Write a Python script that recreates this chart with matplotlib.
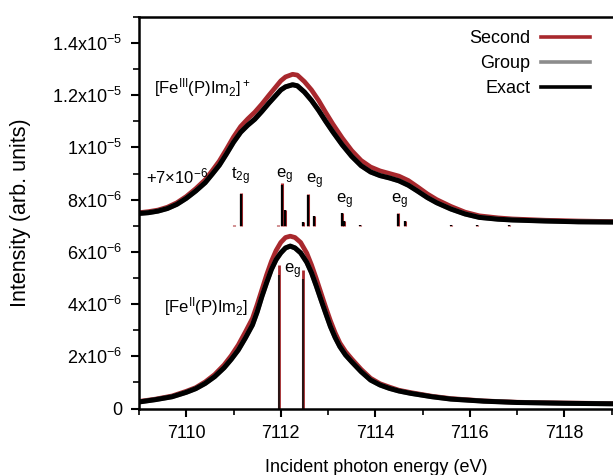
import numpy as np
import matplotlib
matplotlib.use("Agg")
import matplotlib.pyplot as plt
from matplotlib.ticker import FixedLocator, FixedFormatter, MultipleLocator

plt.rcParams["font.family"] = ["Liberation Sans", "DejaVu Sans"]
plt.rcParams["mathtext.default"] = "regular"

RED = "#a8282d"
GRAY = "#8c8c8c"

# Fe(III) spectrum (absolute, already includes +7e-6 offset), units of 1e-6
E_up = [7109.0, 7109.2, 7109.4, 7109.6, 7109.8, 7110.0, 7110.2, 7110.4, 7110.55,
        7110.7, 7110.85, 7111.0, 7111.15, 7111.3, 7111.45, 7111.6, 7111.75, 7111.9,
        7112.0, 7112.1, 7112.25, 7112.35, 7112.5, 7112.65, 7112.8, 7112.95,
        7113.1, 7113.3, 7113.5, 7113.7, 7113.9, 7114.1, 7114.3, 7114.5, 7114.7,
        7114.9, 7115.1, 7115.3, 7115.6, 7115.9, 7116.2, 7116.6, 7116.9, 7117.6,
        7118.3, 7119.0]
up_exact = [7.47, 7.50, 7.56, 7.66, 7.82, 8.05, 8.33, 8.65, 8.98,
            9.32, 9.75, 10.20, 10.58, 10.85, 11.08, 11.38, 11.70, 12.00,
            12.20, 12.32, 12.40, 12.36, 12.12, 11.80, 11.42, 11.00,
            10.60, 10.10, 9.66, 9.30, 9.06, 8.92, 8.83, 8.72, 8.55,
            8.32, 8.08, 7.88, 7.64, 7.45, 7.32, 7.25, 7.22, 7.18,
            7.15, 7.14]
up_group = list(up_exact)
up_second = [7.50, 7.54, 7.60, 7.71, 7.88, 8.12, 8.42, 8.76, 9.11,
             9.48, 9.93, 10.40, 10.80, 11.09, 11.35, 11.66, 12.00, 12.33,
             12.55, 12.70, 12.80, 12.77, 12.52, 12.20, 11.80, 11.34,
             10.90, 10.36, 9.88, 9.50, 9.25, 9.10, 9.00, 8.90, 8.73,
             8.48, 8.22, 8.00, 7.74, 7.52, 7.38, 7.30, 7.26, 7.21,
             7.18, 7.16]

# Fe(II) spectrum, units of 1e-6
E_lo = [7109.0, 7109.35, 7109.7, 7110.0, 7110.2, 7110.4, 7110.6, 7110.8, 7110.95,
        7111.1, 7111.25, 7111.4, 7111.5, 7111.6, 7111.7, 7111.8, 7111.9, 7112.0,
        7112.1, 7112.2, 7112.3, 7112.42, 7112.55, 7112.65, 7112.75, 7112.85,
        7112.95, 7113.05, 7113.15, 7113.25, 7113.37, 7113.5, 7113.7, 7113.9,
        7114.1, 7114.3, 7114.5, 7114.75, 7115.2, 7115.6, 7116.3, 7117.0, 7118.0,
        7119.0]
lo_exact = [0.25, 0.34, 0.45, 0.62, 0.76, 0.96, 1.22, 1.56, 1.88,
            2.24, 2.70, 3.20, 3.70, 4.29, 4.82, 5.32, 5.70, 5.96,
            6.15, 6.22, 6.15, 5.96, 5.60, 5.20, 4.70, 4.17,
            3.65, 3.14, 2.72, 2.37, 2.05, 1.79, 1.41, 1.09,
            0.90, 0.77, 0.67, 0.58, 0.45, 0.36, 0.28, 0.23, 0.20,
            0.18]
lo_group = list(lo_exact)
lo_second = [0.27, 0.36, 0.48, 0.66, 0.80, 1.02, 1.30, 1.67, 2.02,
             2.43, 2.93, 3.45, 3.98, 4.55, 5.12, 5.63, 6.05, 6.36,
             6.55, 6.60, 6.55, 6.36, 5.95, 5.50, 4.98, 4.43,
             3.88, 3.36, 2.90, 2.51, 2.18, 1.90, 1.50, 1.16,
             0.95, 0.82, 0.70, 0.61, 0.47, 0.38, 0.29, 0.24, 0.21,
             0.19]

# stick spectra, units of 1e-6 (upper ones sit on the 7e-6 offset)
OFFSET = 7.0
stick_up_E = [7111.0, 7111.16, 7111.94, 7112.02, 7112.09, 7112.46, 7112.57, 7112.71,
              7113.29, 7113.33, 7113.67, 7114.47, 7114.62, 7115.6, 7116.16, 7116.82]
stick_up_exact = [0.0, 1.22, 0.0, 1.55, 0.60, 0.15, 1.18, 0.36,
                  0.47, 0.20, 0.04, 0.46, 0.20, 0.04, 0.04, 0.04]
stick_up_second = [0.03, 1.27, 0.03, 1.62, 0.62, 0.15, 1.23, 0.38,
                   0.50, 0.20, 0.04, 0.50, 0.20, 0.04, 0.04, 0.04]
stick_lo_E = [7111.97, 7112.46]
stick_lo_exact = [5.10, 4.95]
stick_lo_second = [5.50, 5.30]

ytick_vals = [0, 2e-6, 4e-6, 6e-6, 8e-6, 1e-5, 1.2e-5, 1.4e-5]
ytick_labels = ["0", r"2x10$^{-6}$", r"4x10$^{-6}$", r"6x10$^{-6}$", r"8x10$^{-6}$",
                r"1x10$^{-5}$", r"1.2x10$^{-5}$", r"1.4x10$^{-5}$"]

s = 1e-6
fig = plt.figure(figsize=(6.13, 4.75), dpi=100)
ax = fig.add_axes([0.2268, 0.14, 0.7732, 0.8245])

# sticks
ax.vlines(stick_up_E, OFFSET * s, (OFFSET + np.array(stick_up_second)) * s, color=RED, lw=2.2)
ax.vlines(stick_up_E, OFFSET * s, (OFFSET + np.array(stick_up_exact)) * s, color="black", lw=1.6)
ax.vlines(stick_lo_E, 0, np.array(stick_lo_second) * s, color=RED, lw=2.0)
ax.vlines(stick_lo_E, 0, np.array(stick_lo_exact) * s, color="#2a1414", lw=1.5)

# curves
for E, sec, grp, ex in ((E_up, up_second, up_group, up_exact),
                        (E_lo, lo_second, lo_group, lo_exact)):
    first = E is E_up
    ax.plot(E, np.array(sec) * s, color=RED, lw=3.4, label="Second" if first else None)
    ax.plot(E, np.array(grp) * s, color=GRAY, lw=3.4, label="Group" if first else None)
    ax.plot(E, np.array(ex) * s, color="black", lw=3.6, label="Exact" if first else None)

fs = 12
ax.text(7109.32, 12.29 * s, r"[Fe$^{III}$(P)Im$_2$]$^+$", fontsize=fs, va="center", ha="left")
ax.text(7109.15, 8.9 * s, r"+7$\times$10$^{-6}$", fontsize=fs, va="center", ha="left")
ax.text(7110.94, 8.88 * s, r"t$_{2g}$", fontsize=fs, va="center", ha="left")
ax.text(7111.89, 8.88 * s, r"e$_g$", fontsize=fs, va="center", ha="left")
ax.text(7112.53, 8.69 * s, r"e$_g$", fontsize=fs, va="center", ha="left")
ax.text(7113.17, 7.93 * s, r"e$_g$", fontsize=fs, va="center", ha="left")
ax.text(7114.34, 7.93 * s, r"e$_g$", fontsize=fs, va="center", ha="left")
ax.text(7109.53, 3.92 * s, r"[Fe$^{II}$(P)Im$_2$]", fontsize=fs, va="center", ha="left")
ax.text(7112.06, 5.24 * s, r"e$_g$", fontsize=fs, va="center", ha="left")

ax.set_xlim(7109, 7119.03)
ax.set_ylim(0, 1.5e-5)
ax.xaxis.set_major_locator(MultipleLocator(2))
ax.xaxis.set_minor_locator(MultipleLocator(1))
ax.yaxis.set_major_locator(FixedLocator(ytick_vals))
ax.yaxis.set_major_formatter(FixedFormatter(ytick_labels))
ax.yaxis.set_minor_locator(MultipleLocator(1e-6))
ax.tick_params(which="major", direction="out", length=6, width=1.5, labelsize=13, pad=6)
ax.tick_params(which="minor", direction="out", length=4, width=1.2)
for sp in ("left", "bottom", "top"):
    ax.spines[sp].set_linewidth(1.8)
ax.spines["right"].set_visible(False)

ax.set_xlabel("Incident photon energy (eV)", fontsize=13, labelpad=12)
ax.set_ylabel("Intensity (arb. units)", fontsize=15.5, labelpad=15)

leg = ax.legend(loc="upper right", bbox_to_anchor=(0.967, 0.985), frameon=False,
                markerfirst=False, fontsize=13, handlelength=2.7, handletextpad=0.6,
                labelspacing=0.45, borderaxespad=0)
for h in leg.legend_handles:
    h.set_linewidth(2.6)

fig.savefig("out.png", dpi=100)
